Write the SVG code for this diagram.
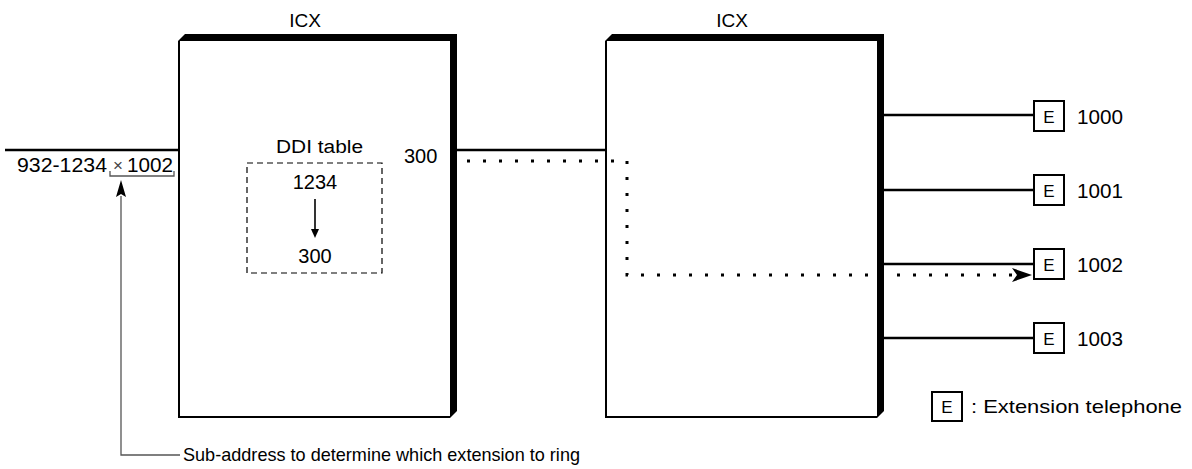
<svg xmlns="http://www.w3.org/2000/svg" width="1192" height="469" viewBox="0 0 1192 469">
<style>
text{font-family:"Liberation Sans",Arial,sans-serif;fill:#000}
.lbl{font-size:18px}
.num{font-size:20px}
.ext{font-size:21px}
.e{font-size:17px;text-anchor:middle}
.ebox{fill:#fff;stroke:#000;stroke-width:2}
.wire{stroke:#000;stroke-width:2.5;fill:none}
.dot{stroke:#000;stroke-width:3;fill:none;stroke-dasharray:3 13}
.thin{stroke:#555;stroke-width:1.3;fill:none}
</style>

<g id="icx-left">
<path d="M178,41 L185,34 L457,34 L457,411 L450,418 L178,418 Z" fill="#000"/>
<rect x="180" y="41" width="270" height="375" fill="#fff"/>
<text class="lbl" x="305" y="27" text-anchor="middle" style="font-size:19px">ICX</text>
</g>

<g id="icx-right">
<path d="M605,41 L612,34 L884,34 L884,411 L877,418 L605,418 Z" fill="#000"/>
<rect x="607" y="41" width="270" height="375" fill="#fff"/>
<text class="lbl" x="732" y="27" text-anchor="middle" style="font-size:19px">ICX</text>
</g>

<g id="ddi-table">
<text class="lbl" x="276" y="153" textLength="87" lengthAdjust="spacingAndGlyphs">DDI table</text>
<rect x="247" y="163" width="135" height="110" fill="none" stroke="#000" stroke-width="1.2" stroke-dasharray="6 4"/>
<text class="num" x="315" y="189" text-anchor="middle">1234</text>
<text class="num" x="315" y="263" text-anchor="middle">300</text>
<line x1="315" y1="199" x2="315" y2="230" stroke="#000" stroke-width="1.6"/>
<path d="M311,229 L319,229 L315,238 Z" fill="#000"/>
</g>

<g id="incoming">
<text class="num" x="17" y="172" textLength="90" lengthAdjust="spacingAndGlyphs">932-1234</text>
<text x="113" y="171" style="font-size:17px;fill:#444">×</text>
<text class="num" x="127" y="172" textLength="46" lengthAdjust="spacingAndGlyphs">1002</text>
<path class="thin" d="M110,171 V176 H174 V171"/>
</g>

<g id="port-300">
<text class="num" x="404" y="163">300</text>
</g>

<g id="ext-1000">
<rect class="ebox" x="1034" y="101" width="30" height="30"/>
<text class="e" x="1049" y="123">E</text>
<text class="ext" x="1077" y="124" textLength="46" lengthAdjust="spacingAndGlyphs">1000</text>
</g>
<g id="ext-1001">
<rect class="ebox" x="1034" y="175" width="30" height="30"/>
<text class="e" x="1049" y="197">E</text>
<text class="ext" x="1077" y="198" textLength="46" lengthAdjust="spacingAndGlyphs">1001</text>
</g>
<g id="ext-1002">
<rect class="ebox" x="1034" y="249" width="30" height="30"/>
<text class="e" x="1049" y="271">E</text>
<text class="ext" x="1077" y="272" textLength="46" lengthAdjust="spacingAndGlyphs">1002</text>
</g>
<g id="ext-1003">
<rect class="ebox" x="1034" y="323" width="30" height="30"/>
<text class="e" x="1049" y="345">E</text>
<text class="ext" x="1077" y="346" textLength="46" lengthAdjust="spacingAndGlyphs">1003</text>
</g>

<g id="legend">
<rect class="ebox" x="932" y="392" width="30" height="29"/>
<text class="e" x="947" y="413">E</text>
<text class="lbl" x="971" y="413" textLength="211" lengthAdjust="spacingAndGlyphs" style="font-size:19px">: Extension telephone</text>
</g>

<g id="note">
<text class="lbl" x="183" y="461" textLength="397" lengthAdjust="spacingAndGlyphs" style="font-size:19px">Sub-address to determine which extension to ring</text>
</g>

<g id="connectors">
<line class="wire" x1="5" y1="150" x2="178" y2="150" stroke-width="3"/>
<line class="wire" x1="457" y1="150" x2="605" y2="150" stroke-width="3"/>
<line class="wire" x1="884" y1="115" x2="1034" y2="115"/>
<line class="wire" x1="884" y1="190" x2="1034" y2="190"/>
<line class="wire" x1="884" y1="264" x2="1034" y2="264"/>
<line class="wire" x1="884" y1="338" x2="1034" y2="338"/>
<path class="dot" d="M467,161 H627 V275 H1013"/>
<path d="M1032,275 L1012,268 L1017,275 L1012,282 Z" fill="#000"/>
<path class="thin" d="M180,455 H121 V196"/>
<path d="M121,180 L126,197 L121,194 L116,197 Z" fill="#000"/>
</g>
</svg>
